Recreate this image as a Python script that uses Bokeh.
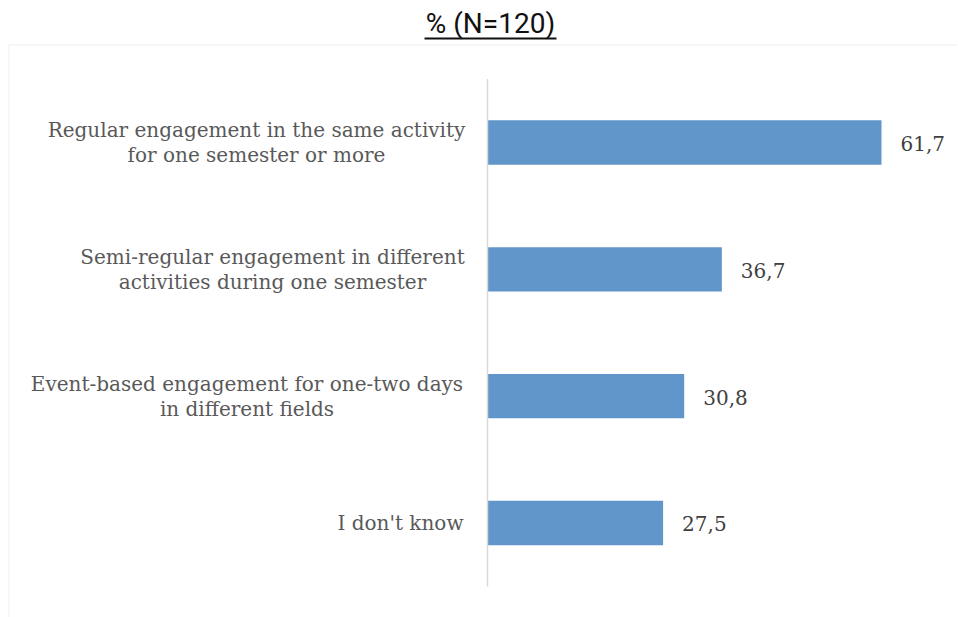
from bokeh.plotting import figure
from bokeh.models import ColumnDataSource, Range1d, BoxAnnotation
from bokeh.core.properties import value
from bokeh.embed import file_html
from bokeh.resources import INLINE

# ---- data ----
title_text = "% (N=120)"
categories = [
    ["Regular engagement in the same activity", "for one semester or more"],
    ["Semi-regular engagement in different", "activities during one semester"],
    ["Event-based engagement for one-two days", "in different fields"],
    ["I don't know"],
]
values = [61.7, 36.7, 30.8, 27.5]
value_labels = ["61,7", "36,7", "30,8", "27,5"]

# ---- layout (screen pixels) ----
W, H = 957, 617
SX = 6.3857          # px per percentage point
SY = 126.83          # px per category step
AXIS_PX = 487        # axis position from canvas left
TOP_CAT_PX = 142     # centre of first category from canvas top
label_centres = [-231, -215, -240.5, -87]

n = len(categories)
ypos = [n - 1 - i for i in range(n)]  # top to bottom

x_start = -AXIS_PX / SX
x_end = x_start + W / SX
y_end = (n - 1) + TOP_CAT_PX / SY
y_start = y_end - H / SY


def px_x(px):
    return x_start + px / SX


def px_y(py):
    return y_end - py / SY


BAR_COLOR = "#6096C9"
LABEL_COLOR = "#595959"
VALUE_COLOR = "#404040"
SERIF = value("DejaVu Serif")

p = figure(
    width=W, height=H,
    x_range=Range1d(x_start, x_end),
    y_range=Range1d(y_start, y_end),
    x_axis_type=None, y_axis_type=None,
    toolbar_location=None, output_backend="svg",
    min_border_left=0, min_border_right=0, min_border_top=0, min_border_bottom=0,
)
p.outline_line_color = None
p.xgrid.visible = False
p.ygrid.visible = False
p.background_fill_color = "white"
p.border_fill_color = "white"

# chart-area border (right and bottom edges fall outside the view)
p.add_layout(BoxAnnotation(left=px_x(8.5), right=px_x(W + 20), top=px_y(44.5), bottom=px_y(H + 20),
                           fill_color=None, line_color="#d9d9d9", line_width=1.5))

# title with underline
p.text(x=[px_x(490)], y=[px_y(23)], text=[title_text], text_font=value("Roboto"),
       text_font_size="28px", text_color="#111111", text_align="center", text_baseline="middle")
p.segment(x0=[px_x(424)], y0=[px_y(38)], x1=[px_x(556)], y1=[px_y(38)],
          line_color="#111111", line_width=2)

src = ColumnDataSource(dict(y=ypos, v=values, lab=value_labels))
p.hbar(y="y", left=0, right="v", height=0.35, source=src,
       fill_color=BAR_COLOR, line_color=None)

# category axis line
p.segment(x0=[0], y0=[-0.5], x1=[0], y1=[n - 0.5], line_color="#d9d9d9", line_width=1.5)

# value labels
p.text(x="v", y="y", text="lab", source=src, x_offset=19, y_offset=1,
       text_font=SERIF, text_font_size="20px", text_color=VALUE_COLOR,
       text_align="left", text_baseline="middle")

# category labels (centred lines, block right-aligned near the axis)
lx, ly, lt, lxo, lyo = [], [], [], [], []
for yy, lines, cx in zip(ypos, categories, label_centres):
    offs = [0] if len(lines) == 1 else [-12.5, 12.5]
    for line, o in zip(lines, offs):
        lx.append(0)
        ly.append(yy)
        lt.append(line)
        lxo.append(cx)
        lyo.append(o)
lsrc = ColumnDataSource(dict(x=lx, y=ly, t=lt, xo=lxo, yo=lyo))
p.text(x="x", y="y", text="t", x_offset="xo", y_offset="yo", source=lsrc,
       text_font=SERIF, text_font_size="20px", text_color=LABEL_COLOR,
       text_align="center", text_baseline="middle")

open("out.html", "w").write(file_html(p, INLINE))
